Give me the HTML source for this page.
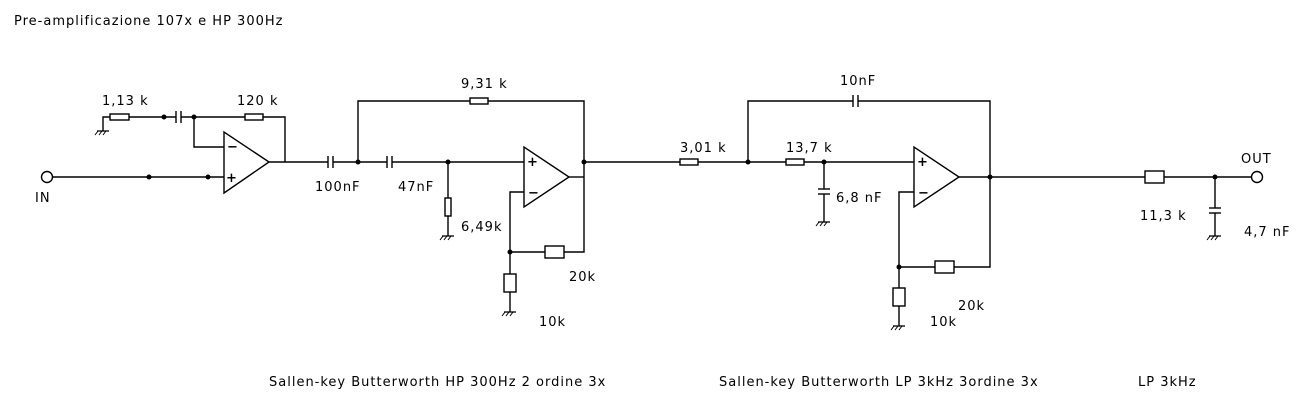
<!DOCTYPE html>
<html><head><meta charset="utf-8"><style>
html,body{margin:0;padding:0;background:#fff}
svg{display:block}
text{font-family:"DejaVu Sans","Liberation Sans",sans-serif;font-size:13px;letter-spacing:1px;fill:#000}
</style></head><body>
<svg width="1305" height="404" viewBox="0 0 1305 404" xmlns="http://www.w3.org/2000/svg">
<defs>
<g id="gnd"><line x1="-6" y1="0" x2="6" y2="0" stroke="#000" stroke-width="1.3"/><line x1="-5" y1="0" x2="-8" y2="4" stroke="#000"/><line x1="-1" y1="0" x2="-4" y2="4" stroke="#000"/><line x1="3" y1="0" x2="0" y2="4" stroke="#000"/></g>
</defs>
<g stroke="#000" stroke-width="1.4" fill="none">
<circle cx="47" cy="177" r="5.5" fill="#fff"/>
<line x1="53" y1="177" x2="224" y2="177"/>
<polygon points="224,132 224,193 269,162" fill="#fff"/>
<polyline points="103,131 103,117 110,117"/>
<rect x="110" y="114" width="19" height="6" fill="#fff"/>
<line x1="129" y1="117" x2="176" y2="117"/>
<line x1="176" y1="111" x2="176" y2="123"/><line x1="181" y1="111" x2="181" y2="123"/>
<line x1="181" y1="117" x2="245" y2="117"/>
<rect x="245" y="114" width="18" height="6" fill="#fff"/>
<polyline points="263,117 285,117 285,162"/>
<polyline points="194,117 194,147 224,147"/>
<line x1="269" y1="162" x2="328" y2="162"/>
<line x1="328" y1="156" x2="328" y2="168"/><line x1="333" y1="156" x2="333" y2="168"/>
<line x1="333" y1="162" x2="387" y2="162"/>
<line x1="387" y1="156" x2="387" y2="168"/><line x1="392" y1="156" x2="392" y2="168"/>
<line x1="392" y1="162" x2="524" y2="162"/>
<polyline points="358,162 358,101 470,101"/>
<rect x="470" y="98" width="18" height="6" fill="#fff"/>
<polyline points="488,101 584,101 584,252 564,252"/>
<line x1="448" y1="162" x2="448" y2="198"/>
<rect x="445" y="198" width="6" height="18" fill="#fff"/>
<line x1="448" y1="216" x2="448" y2="236"/>
<polygon points="524,147 524,207 569,177" fill="#fff"/>
<line x1="569" y1="177" x2="584" y2="177"/>
<polyline points="524,192 510,192 510,275"/>
<line x1="510" y1="252" x2="545" y2="252"/>
<rect x="545" y="246" width="19" height="12" fill="#fff"/>
<rect x="504" y="274" width="12" height="18" fill="#fff"/>
<line x1="510" y1="292" x2="510" y2="312"/>
<line x1="584" y1="162" x2="680" y2="162"/>
<rect x="680" y="159" width="18" height="6" fill="#fff"/>
<line x1="698" y1="162" x2="786" y2="162"/>
<polyline points="748,162 748,101 853,101"/>
<line x1="853" y1="95" x2="853" y2="107"/><line x1="858" y1="95" x2="858" y2="107"/>
<polyline points="858,101 990,101 990,267 954,267"/>
<rect x="786" y="159" width="18" height="6" fill="#fff"/>
<line x1="804" y1="162" x2="914" y2="162"/>
<line x1="824" y1="162" x2="824" y2="189"/>
<line x1="818" y1="189" x2="830" y2="189"/><line x1="818" y1="194" x2="830" y2="194"/>
<line x1="824" y1="194" x2="824" y2="222"/>
<polygon points="914,147 914,207 959,177" fill="#fff"/>
<polyline points="914,192 899,192 899,289"/>
<line x1="899" y1="267" x2="935" y2="267"/>
<rect x="935" y="261" width="19" height="12" fill="#fff"/>
<rect x="893" y="288" width="12" height="18" fill="#fff"/>
<line x1="899" y1="306" x2="899" y2="326"/>
<line x1="959" y1="177" x2="1145" y2="177"/>
<rect x="1145" y="171" width="19" height="12" fill="#fff"/>
<line x1="1164" y1="177" x2="1251" y2="177"/>
<circle cx="1257" cy="177" r="5.5" fill="#fff"/>
<line x1="1215" y1="177" x2="1215" y2="208"/>
<line x1="1209" y1="208" x2="1221" y2="208"/><line x1="1209" y1="213" x2="1221" y2="213"/>
<line x1="1215" y1="213" x2="1215" y2="236"/>
</g>
<g fill="#000">
<use href="#gnd" x="103" y="131"/><use href="#gnd" x="448" y="236"/><use href="#gnd" x="510" y="312"/>
<use href="#gnd" x="824" y="222"/><use href="#gnd" x="899" y="326"/><use href="#gnd" x="1215" y="236"/>
<circle cx="149" cy="177" r="2.5"/><circle cx="208" cy="177" r="2.5"/><circle cx="164" cy="117" r="2.5"/><circle cx="194" cy="117" r="2.5"/>
<circle cx="358" cy="162" r="2.5"/><circle cx="448" cy="162" r="2.5"/><circle cx="584" cy="162" r="2.5"/><circle cx="510" cy="252" r="2.5"/>
<circle cx="748" cy="162" r="2.5"/><circle cx="824" cy="162" r="2.5"/><circle cx="990" cy="177" r="2.5"/><circle cx="899" cy="267" r="2.5"/><circle cx="1215" cy="177" r="2.5"/>
</g>
<g style="font-size:12px;letter-spacing:0;font-weight:bold">
<text x="227" y="151">−</text><text x="226" y="182">+</text>
<text x="527" y="166">+</text><text x="528" y="197">−</text>
<text x="917" y="166">+</text><text x="918" y="197">−</text>
</g>
<text x="14" y="25">Pre-amplificazione 107x e HP 300Hz</text>
<text x="35" y="202">IN</text>
<text x="102" y="105">1,13 k</text>
<text x="237" y="105">120 k</text>
<text x="461" y="88">9,31 k</text>
<text x="315" y="191">100nF</text>
<text x="398" y="191">47nF</text>
<text x="461" y="231">6,49k</text>
<text x="569" y="281">20k</text>
<text x="539" y="326">10k</text>
<text x="680" y="152">3,01 k</text>
<text x="840" y="85">10nF</text>
<text x="786" y="152">13,7 k</text>
<text x="836" y="202">6,8 nF</text>
<text x="958" y="310">20k</text>
<text x="930" y="326">10k</text>
<text x="1241" y="163">OUT</text>
<text x="1140" y="220">11,3 k</text>
<text x="1244" y="236">4,7 nF</text>
<text x="269" y="386">Sallen-key Butterworth HP 300Hz 2 ordine 3x</text>
<text x="719" y="386">Sallen-key Butterworth LP 3kHz 3ordine 3x</text>
<text x="1138" y="386">LP 3kHz</text>
</svg>
</body></html>
